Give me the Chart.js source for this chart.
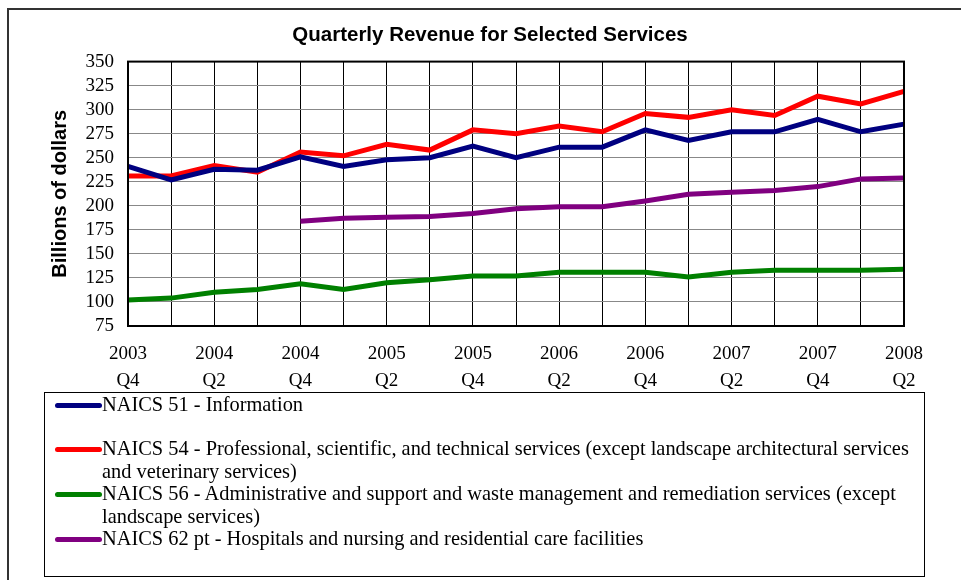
<!DOCTYPE html>
<html>
<head>
<meta charset="utf-8">
<script src="https://cdn.jsdelivr.net/npm/chart.js@4.4.0/dist/chart.umd.min.js"></script>
<style>
    body { margin: 0; background: #fff; width: 961px; height: 580px; overflow: hidden; position: relative; }
    #frame { position: absolute; left: 7px; top: 8px; width: 1000px; height: 600px; border-left: 2px solid #333; border-top: 2px solid #333; }
    #chart { position: absolute; left: 0; top: 0; }
    #legend { position: absolute; left: 44px; top: 392px; width: 881px; height: 185px; border: 1px solid #000;
              font-family: "Liberation Serif", serif; font-size: 20.4px; color: #000; box-sizing: border-box; }
    .entry { position: relative; min-height: 44.3px; line-height: 22.5px; padding-left: 57px; width: 822px; }
    .entry .swatch { position: absolute; left: 10px; top: 10px; width: 47px; height: 5px; border-radius: 3px; }
</style>
</head>
<body>
<div id="frame"></div>
<canvas id="chart" width="961" height="400"></canvas>
<div id="legend"></div>
<script>
    // Kwartały (oś X)
    const periods = ['2003 Q4', '2004 Q1', '2004 Q2', '2004 Q3', '2004 Q4', '2005 Q1', '2005 Q2', '2005 Q3',
        '2005 Q4', '2006 Q1', '2006 Q2', '2006 Q3', '2006 Q4', '2007 Q1', '2007 Q2', '2007 Q3', '2007 Q4',
        '2008 Q1', '2008 Q2'];

    // Serie danych (mld USD)
    const naics51 = [241, 227, 238, 237, 251, 241, 248, 250, 262, 250, 261, 261, 279, 268, 277, 277, 290, 277, 285];
    const naics54 = [231, 231, 242, 235, 256, 252, 264, 258, 279, 275, 283, 277, 296, 292, 300, 294, 314, 306, 319];
    const naics56 = [102, 104, 110, 113, 119, 113, 120, 123, 127, 127, 131, 131, 131, 126, 131, 133, 133, 133, 134];
    const naics62 = [null, null, null, null, 184, 187, 188, 189, 192, 197, 199, 199, 205, 212, 214, 216, 220, 228, 229];

    const seriesLabels = [
        'NAICS 51 - Information',
        'NAICS 54 - Professional, scientific, and technical services (except landscape architectural services and veterinary services)',
        'NAICS 56 - Administrative and support and waste management and remediation services (except landscape services)',
        'NAICS 62 pt - Hospitals and nursing and residential care facilities'
    ];
    const seriesColors = ['#000080', '#ff0000', '#008000', '#800080'];

    const yTicks = { min: 75, max: 350, step: 25 };

    function makeSet(i, data) {
        return {
            label: seriesLabels[i],
            data: data,
            borderColor: seriesColors[i],
            backgroundColor: seriesColors[i],
            borderWidth: 5,
            pointRadius: 0,
            tension: 0,
            fill: false,
            spanGaps: false
        };
    }

    // Ramka obszaru wykresu
    const plotBorder = {
        id: 'plotBorder',
        afterDatasetsDraw(chart) {
            const a = chart.chartArea;
            const ctx = chart.ctx;
            ctx.save();
            ctx.strokeStyle = '#000';
            ctx.lineWidth = 2;
            ctx.strokeRect(a.left, a.top, a.right - a.left, a.bottom - a.top);
            ctx.restore();
        }
    };

    const chart = new Chart(document.getElementById('chart').getContext('2d'), {
        type: 'line',
        data: {
            labels: periods,
            datasets: [makeSet(0, naics51), makeSet(1, naics54), makeSet(2, naics56), makeSet(3, naics62)]
        },
        options: {
            responsive: false,
            animation: false,
            // lewy padding 76 -> tytuł wyśrodkowany ok. x=490 jak w oryginale
            layout: { padding: { left: 76, right: 57, top: 0, bottom: 0 } },
            plugins: {
                legend: { display: false },
                tooltip: { enabled: false },
                title: {
                    display: true,
                    text: 'Quarterly Revenue for Selected Services',
                    color: '#000',
                    font: { family: 'Liberation Sans', size: 20.5, weight: 'bold' },
                    padding: { top: 23, bottom: 14 }
                }
            },
            scales: {
                x: {
                    offset: false,
                    grid: { color: '#000', lineWidth: 1, drawTicks: false },
                    border: { color: '#000', width: 2 },
                    ticks: {
                        autoSkip: false,
                        maxRotation: 0,
                        padding: 14,
                        color: '#000',
                        font: { family: 'Liberation Serif', size: 19, lineHeight: 1.45 },
                        callback: function (v, i) {
                            return i % 2 === 0 ? periods[i].split(' ') : '';
                        }
                    },
                    afterFit: function (s) { s.height = 74; }
                },
                y: {
                    min: yTicks.min,
                    max: yTicks.max,
                    grid: { color: '#888', lineWidth: 1, drawTicks: false },
                    border: { color: '#000', width: 2 },
                    ticks: {
                        stepSize: yTicks.step,
                        autoSkip: false,
                        padding: 14,
                        color: '#000',
                        font: { family: 'Liberation Serif', size: 19 }
                    },
                    title: {
                        display: true,
                        text: 'Billions of dollars',
                        color: '#000',
                        font: { family: 'Liberation Sans', size: 20, weight: 'bold' },
                        padding: { top: -28, bottom: 0 }
                    },
                    afterFit: function (s) { s.width = 52; }
                }
            }
        },
        plugins: [plotBorder]
    });

    // Legenda w HTML
    const legend = document.getElementById('legend');
    chart.data.datasets.forEach(function (ds) {
        const row = document.createElement('div');
        row.className = 'entry';
        const sw = document.createElement('span');
        sw.className = 'swatch';
        sw.style.background = ds.borderColor;
        row.appendChild(sw);
        row.appendChild(document.createTextNode(ds.label));
        legend.appendChild(row);
    });
</script>
</body>
</html>
